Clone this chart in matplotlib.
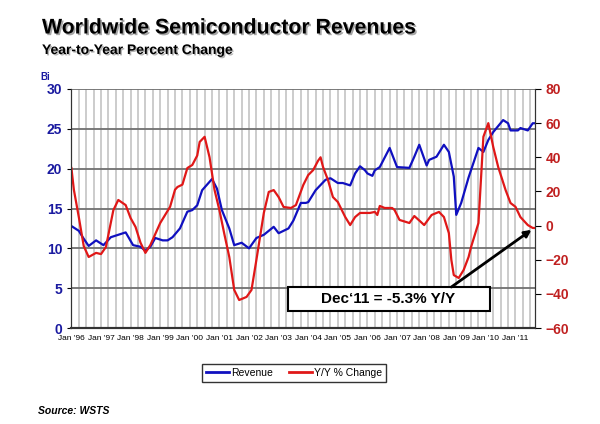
import numpy as np
import matplotlib
matplotlib.use("Agg")
import matplotlib.pyplot as plt
from matplotlib.ticker import MultipleLocator
from matplotlib.patches import Rectangle
import matplotlib.patheffects as pe

plt.rcParams['font.family'] = ['Liberation Sans', 'DejaVu Sans']

# months since Jan '96 and values
rev_month = [0, 3, 5, 7, 10, 13, 16, 19, 22, 25, 28, 30, 32, 34, 37, 39, 41, 44, 47, 49,
             51, 53, 57, 59, 61, 64, 66, 69, 72, 75, 78, 82, 84, 88, 90, 93, 95, 96, 99,
             103, 105, 108, 110, 113, 115, 117, 119, 120, 122, 123, 125, 129, 131, 132,
             137, 139, 141, 144, 145, 148, 151, 153, 155, 156, 158, 161, 165, 167, 169,
             171, 175, 177, 178, 181, 182, 185, 187, 188]
revenue = [12.8, 12.2, 11.2, 10.3, 11.0, 10.4, 11.4, 11.7, 12.0, 10.4, 10.2, 9.7, 10.2,
           11.3, 11.0, 11.0, 11.4, 12.5, 14.6, 14.8, 15.4, 17.3, 18.7, 17.5, 14.8, 12.5,
           10.4, 10.7, 10.0, 11.3, 11.7, 12.7, 11.9, 12.5, 13.5, 15.7, 15.7, 15.8, 17.3,
           18.6, 18.8, 18.2, 18.2, 17.9, 19.4, 20.3, 19.8, 19.4, 19.1, 19.8, 20.2, 22.6,
           21.0, 20.2, 20.1, 21.5, 23.0, 20.4, 21.1, 21.5, 23.0, 22.1, 19.0, 14.2, 15.7,
           18.9, 22.6, 22.1, 23.6, 24.6, 26.1, 25.7, 24.8, 24.8, 25.1, 24.8, 25.7, 25.7]

yoy_month = [0, 1, 3, 5, 7, 10, 12, 14, 17, 19, 22, 24, 26, 28, 30, 32, 36, 40, 42, 43,
             45, 47, 49, 51, 52, 54, 56, 58, 60, 62, 64, 66, 68, 71, 73, 75, 78, 80, 82,
             84, 86, 89, 91, 94, 96, 98, 100, 101, 102, 104, 106, 108, 111, 113, 115, 117,
             121, 123, 124, 125, 127, 130, 131, 133, 137, 139, 141, 143, 146, 149, 151,
             153, 154, 155, 157, 159, 161, 162, 165, 166, 167, 169, 171, 173, 176, 178,
             180, 182, 185, 187, 188]
yoy = [33.7, 21, 5, -12, -18.4, -16, -16.7, -12.5, 9, 15, 12, 4.4, -0.8, -10, -16, -11.4,
       1.5, 11, 21, 22.6, 24, 33.7, 35.5, 41, 49, 52, 40, 21, 9, -5, -18.4, -37.7, -43.6,
       -41.8, -37.7, -20, 7.4, 19.7, 20.8, 16.7, 10.9, 10.3, 12, 23.8, 29.6, 32.5, 38, 40,
       34.3, 26.7, 16.7, 13.8, 5, 0.3, 5, 7.4, 7.4, 8, 6.2, 11.5, 10.3, 10.3, 9.1, 3.3,
       1.5, 5.6, 3, 0.3, 6.2, 8, 5, -4.4, -20, -29, -30.7, -26, -18.4, -12.6, 1.5, 26.7,
       52, 60, 46, 34.3, 20.8, 13.2, 11, 5, 0.3, -1.4, -1.4]

year_labels = ["Jan '96", "Jan '97", "Jan '98", "Jan '99", "Jan '00", "Jan '01", "Jan '02",
               "Jan '03", "Jan '04", "Jan '05", "Jan '06", "Jan '07", "Jan '08", "Jan '09",
               "Jan '10", "Jan '11"]

blue = '#1010c0'
red = '#e01818'

fig = plt.figure(figsize=(6, 4.24), dpi=100)
ax = fig.add_axes([0.119, 0.2264, 0.773, 0.5637])
ax2 = ax.twinx()

ax.set_xlim(0, 188)
ax.set_ylim(0, 30)
ax2.set_ylim(-60, 80)

ax.set_xticks(np.arange(len(year_labels)) * 12)
ax.set_xticklabels(year_labels, fontsize=6)
ax.xaxis.set_minor_locator(MultipleLocator(3))
ax.tick_params(axis='x', which='both', length=0, pad=5)
ax.grid(axis='x', which='both', color='#c4c4c4', lw=1.2)
ax.grid(axis='y', color='#707070', lw=1.3)
ax.set_axisbelow(True)

ax.set_yticks(np.arange(0, 31, 5))
ax.tick_params(axis='y', labelsize=10, labelcolor='#1a1aa0', length=3, direction='out')
for t in ax.get_yticklabels():
    t.set_fontweight('bold')
ax2.set_yticks(np.arange(-60, 81, 20))
ax2.tick_params(axis='y', labelsize=10, labelcolor='#c02020', length=4, direction='out')
for t in ax2.get_yticklabels():
    t.set_fontweight('bold')

for a in (ax, ax2):
    a.spines['top'].set_visible(False)
    a.spines['left'].set_color('#333333')
    a.spines['right'].set_color('#333333')
    a.spines['bottom'].set_color('#333333')
    a.spines['bottom'].set_linewidth(1.5)

l1, = ax.plot(rev_month, revenue, color=blue, lw=1.6, label='Revenue')
l2, = ax2.plot(yoy_month, yoy, color=red, lw=1.6, label='Y/Y % Change')

# annotation box and arrow
ax2.add_patch(Rectangle((88, -50), 81.5, 14, fc='white', ec='black', lw=1.5, zorder=4))
ax2.text(128.5, -43, 'Dec\u201811 = -5.3% Y/Y', ha='center', va='center', fontsize=11,
         fontweight='bold', zorder=5)
ax2.annotate('', xy=(186.5, -2.5), xytext=(154, -36),
             arrowprops=dict(arrowstyle='-|>', color='black', lw=2, mutation_scale=10,
                             shrinkA=0, shrinkB=0), zorder=5)

fig.text(0.07, 1 - 28 / 424, 'Worldwide Semiconductor Revenues', fontsize=15.3,
         fontweight='bold', va='center',
         path_effects=[pe.withSimplePatchShadow(offset=(1.2, -1.2), alpha=0.35)])
fig.text(0.07, 1 - 50 / 424, 'Year-to-Year Percent Change', fontsize=10,
         fontweight='bold', va='center',
         path_effects=[pe.withSimplePatchShadow(offset=(1, -1), alpha=0.3)])
fig.text(0.068, 1 - 77 / 424, 'Bi', fontsize=7, fontweight='bold', color='#1a1aa0',
         va='center')

leg = fig.legend(handles=[l1, l2], loc='center', bbox_to_anchor=(294 / 600, 1 - 373 / 424),
                 ncol=2, fontsize=7.5, frameon=True, fancybox=False, handlelength=2.2,
                 handletextpad=0.2, columnspacing=1.5, borderpad=0.4)
leg.get_frame().set_edgecolor('black')
leg.get_frame().set_linewidth(1.0)
for h in leg.get_lines():
    h.set_linewidth(2)

fig.text(0.063, 1 - 411 / 424, 'Source: WSTS', fontsize=7.5, fontweight='bold',
         fontstyle='italic', va='center')

fig.savefig('out.png', dpi=100)
